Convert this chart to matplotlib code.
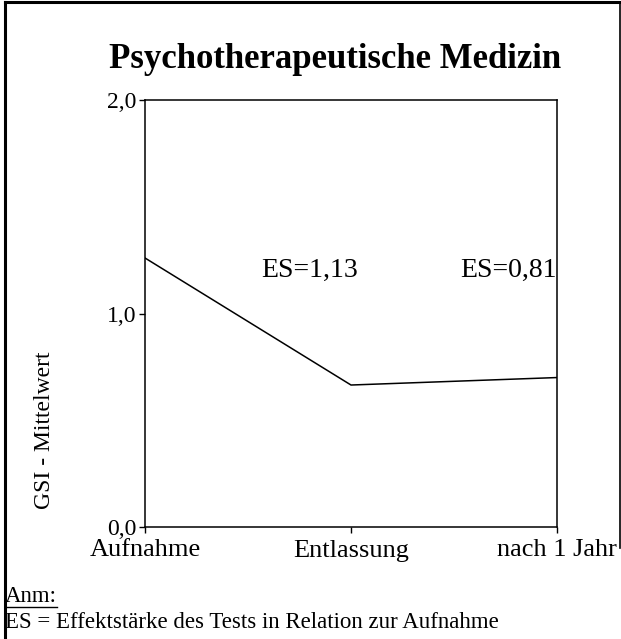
import matplotlib
matplotlib.use('Agg')
import matplotlib.pyplot as plt
from matplotlib.lines import Line2D

plt.rcParams['font.family'] = ['Liberation Serif', 'DejaVu Serif']

# Daten
zeitpunkte = ['Aufnahme', 'Entlassung', 'nach 1 Jahr']
gsi_mittel = [1.26, 0.665, 0.70]
es_werte = ['ES=1,13', 'ES=0,81']
y_ticks = [0.0, 1.0, 2.0]
y_labels = ['0,0', '1,0', '2,0']

W, H = 621, 639
fig = plt.figure(figsize=(W / 100, H / 100), dpi=100)

def px(x0, y0, x1, y1):
    # pixel box -> figure fraction [left, bottom, width, height]
    return [x0 / W, 1 - y1 / H, (x1 - x0) / W, (y1 - y0) / H]

ax = fig.add_axes(px(145, 100, 557, 527))
x = list(range(len(zeitpunkte)))
ax.plot(x, gsi_mittel, color='black', lw=1.1)
ax.set_xlim(0, 2)
ax.set_ylim(0, 2)
ax.set_xticks(x)
ax.set_xticklabels(zeitpunkte, fontsize=19)
ax.set_yticks(y_ticks)
ax.set_yticklabels(y_labels, fontsize=17)
ax.tick_params(length=4, width=1, pad=2, colors='black')
ax.tick_params(axis='x', pad=5)
for s in ax.spines.values():
    s.set_linewidth(1.1)

ax.text(0.565, 1.20, es_werte[0], fontsize=20, ha='left', va='center')
ax.text(2.0, 1.20, es_werte[1], fontsize=20, ha='right', va='center')

fig.text(335 / W, 1 - 60 / H, 'Psychotherapeutische Medizin', fontsize=25,
         fontweight='bold', ha='center', va='center')
fig.text(45 / W, 1 - 430 / H, 'GSI - Mittelwert', fontsize=17,
         rotation=90, ha='center', va='center')

anm = fig.text(5 / W, 1 - 597 / H, 'Anm:', fontsize=16.5, ha='left', va='center')
fig.text(5 / W, 1 - 622 / H, 'ES = Effektstärke des Tests in Relation zur Aufnahme',
         fontsize=16.5, ha='left', va='center')

# Rahmen
fig.add_artist(Line2D([5 / W, 5 / W], [0, 1 - 1.5 / H], color='black', lw=2.2,
                      transform=fig.transFigure))
fig.add_artist(Line2D([5 / W, 1], [1 - 1.5 / H, 1 - 1.5 / H], color='black', lw=2.2,
                      transform=fig.transFigure))
fig.add_artist(Line2D([619.5 / W, 619.5 / W], [1 - 1.5 / H, 1 - 548 / H], color='black',
                      lw=1.2, transform=fig.transFigure))

# Unterstreichung "Anm:"
fig.canvas.draw()
bb = anm.get_window_extent().transformed(fig.transFigure.inverted())
fig.add_artist(Line2D([bb.x0, bb.x1], [bb.y0 + 1 / H, bb.y0 + 1 / H], color='black',
                      lw=1, transform=fig.transFigure))

fig.savefig('out.png', dpi=100)
